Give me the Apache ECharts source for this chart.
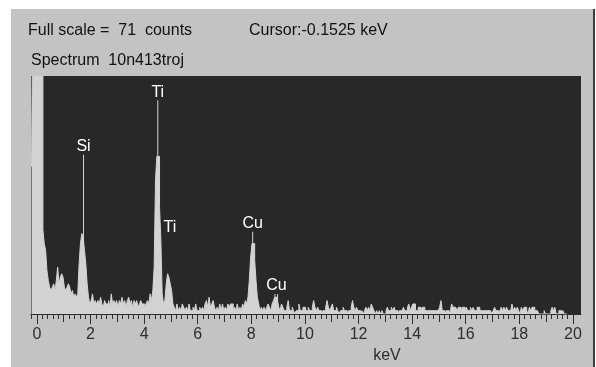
<!DOCTYPE html>
<html>
<head>
<meta charset="utf-8">
<script src="https://cdn.jsdelivr.net/npm/echarts@6/dist/echarts.min.js"></script>
<style>
  html, body { margin: 0; padding: 0; background: #ffffff; }
  #chart { width: 596px; height: 367px; }
</style>
</head>
<body>
<div id="chart"></div>
<script>
// EDS spectrum "10n413troj": counts per 0.05 keV channel, first channel at -0.20 keV
const channelStart = -0.20;
const channelWidth = 0.05;
const counts = [
  // -0.20 .. 0.45 (zero-energy noise peak, clipped at full scale)
  44, 71, 71, 71, 71, 71, 71, 71, 71, 25, 21, 19, 13, 10,
  // 0.50 .. 1.95 (low-energy tail, Si K)
  8, 7, 8, 9, 7, 10, 14, 9, 11, 12, 11, 8, 7, 8, 9, 8, 6, 7, 5, 6,
  5, 6, 15, 21, 24, 23, 19, 15, 9, 5,
  // 2.00 .. 4.30
  3, 4, 6, 3, 4, 3, 4, 3, 5, 3, 2, 4, 3, 3, 4, 2, 6, 3, 4, 3,
  4, 2, 4, 3, 5, 3, 4, 2, 4, 5, 3, 4, 2, 4, 3, 4, 2, 3, 4, 3,
  3, 2, 3, 4, 3, 6, 4,
  // 4.35 .. 5.15 (Ti Ka, Ti Kb)
  7, 14, 40, 47, 47, 32, 22, 6, 3, 4, 9, 12, 11, 9, 7, 3, 2,
  // 5.20 .. 7.85
  1, 3, 1, 2, 1, 3, 2, 1, 2, 1, 3, 1, 1, 2, 1, 3, 1, 1, 2, 1,
  2, 1, 3, 4, 2, 5, 2, 3, 4, 2, 1, 2, 1, 3, 1, 3, 1, 2, 1, 3,
  2, 3, 3, 1, 2, 1, 3, 1, 2, 1, 3, 2, 4, 3,
  // 7.90 .. 9.10 (Cu Ka, Cu Kb)
  5, 10, 17, 21, 21, 16, 10, 5, 3, 1, 2, 1, 2, 1, 2, 3, 2, 1, 3, 4,
  5, 5, 4, 2, 1,
  // 9.15 .. 12.50
  3, 2, 1, 1, 2, 4, 1, 1, 2, 1, 0, 1, 1, 3, 1, 1, 2, 2, 1, 1,
  2, 1, 1, 2, 4, 2, 1, 2, 1, 1, 0, 1, 1, 2, 4, 2, 1, 2, 3, 1,
  1, 2, 1, 0, 1, 1, 2, 1, 1, 0, 1, 1, 2, 4, 2, 1, 2, 1, 1, 0,
  1, 0, 1, 2, 1, 2, 1, 3,
  // 12.55 .. 16.25
  2, 1, 0, 1, 0, 1, 0, 1, 0, 0, 1, 2, 1, 1, 2, 1, 2, 1, 1, 0,
  1, 1, 1, 2, 1, 1, 2, 3, 1, 2, 3, 3, 1, 1, 2, 2, 1, 2, 2, 1,
  1, 1, 1, 1, 1, 1, 1, 1, 1, 1, 2, 4, 1, 1, 0, 1, 1, 0, 1, 3,
  2, 2, 2, 1, 2, 2, 1, 2, 2, 1, 2, 1, 1, 2, 1,
  // 16.30 .. 19.80
  2, 1, 1, 2, 2, 1, 1, 1, 1, 1, 1, 1, 1, 1, 0, 1, 2, 1, 1, 0,
  1, 2, 1, 2, 1, 2, 1, 1, 1, 3, 1, 2, 1, 2, 1, 0, 2, 1, 2, 2,
  1, 0, 2, 1, 2, 2, 1, 1, 1, 0, 0, 0, 0, 1, 0, 0, 0, 0, 1, 2,
  1, 2, 0, 0, 1, 1, 0, 1, 0, 0, 0
];

// Element line markers: energy (keV), marker top (counts), label
const markerKeV = [1.74, 4.51, 4.96, 8.05, 8.88, 8.98];
const markerTop = [47.5, 63.8, 23.5, 24.5, 6, 6];
const markerNames = ['Si', 'Ti', 'Ti', 'Cu', 'Cu', ''];
const markerHidden = [false, false, true, false, false, false];

// Energy axis
const axisMin = -0.22;
const axisMax = 20.3;
const fullScale = 71;
const majorTicks = [0, 2, 4, 6, 8, 10, 12, 14, 16, 18, 20];
const midTicks = [1, 3, 5, 7, 9, 11, 13, 15, 17, 19];

const minorTicks = [];
for (let k = -1; k <= 100; k++) minorTicks.push(Math.round(k * 0.2 * 100) / 100);

const FILL = '#d3d3d3';
const INK = '#2e2e2e';
const HEAD_FONT = '16px "Liberation Sans", Arial, sans-serif';

const spectrum = counts.map((c, i) => [
  Math.round((channelStart + i * channelWidth) * 100) / 100, c
]);

const markers = markerKeV.map((e, i) => ({
  value: [e, markerTop[i]],
  itemStyle: { color: markerHidden[i] ? 'rgba(0,0,0,0)' : FILL },
  label: { offset: i === 4 ? [1.5, 0] : [0, 0] },
  name: markerNames[i]
}));

const baseAxis = {
  type: 'value', min: axisMin, max: axisMax, gridIndex: 0,
  position: 'bottom', offset: 0,
  splitLine: { show: false }
};

const chart = echarts.init(document.getElementById('chart'), null, { renderer: 'canvas' });
chart.setOption({
  animation: false,
  backgroundColor: '#ffffff',
  graphic: [
    { type: 'rect', z: -10, shape: { x: 11, y: 9, width: 582, height: 358 }, style: { fill: '#c3c3c3' } },
    { type: 'rect', z: -10, shape: { x: 593, y: 9, width: 2, height: 358 }, style: { fill: '#3c3c3c' } },
    { type: 'text', style: { x: 28, y: 31, text: 'Full scale =  71  counts', font: HEAD_FONT, fill: '#111', verticalAlign: 'middle' } },
    { type: 'text', style: { x: 249, y: 31, text: 'Cursor:-0.1525 keV', font: HEAD_FONT, fill: '#111', verticalAlign: 'middle' } },
    { type: 'text', style: { x: 31, y: 61, text: 'Spectrum  10n413troj', font: HEAD_FONT, fill: '#111', verticalAlign: 'middle' } },
    { type: 'text', style: { x: 387, y: 356, text: 'keV', font: '16px "Liberation Sans Narrow", "Liberation Sans", Arial, sans-serif', fill: INK, align: 'center', verticalAlign: 'middle' } }
  ],
  grid: {
    left: 31, right: 15, top: 76, bottom: 53,
    show: true, backgroundColor: '#282828', borderWidth: 0
  },
  xAxis: [
    Object.assign({}, baseAxis, {
      axisLine: { show: true, lineStyle: { color: INK, width: 1 } },
      axisTick: { show: true, length: 10, customValues: majorTicks, lineStyle: { color: INK } },
      axisLabel: {
        show: true, customValues: majorTicks, margin: 21, verticalAlign: 'middle',
        color: INK, fontSize: 16, fontFamily: '"Liberation Sans Narrow", "Liberation Sans", Arial, sans-serif'
      }
    }),
    Object.assign({}, baseAxis, {
      axisLine: { show: false },
      axisTick: { show: true, length: 8, customValues: midTicks, lineStyle: { color: INK } },
      axisLabel: { show: false }
    }),
    Object.assign({}, baseAxis, {
      axisLine: { show: false },
      axisTick: { show: true, length: 5, customValues: minorTicks, lineStyle: { color: INK } },
      axisLabel: { show: false }
    })
  ],
  yAxis: {
    type: 'value', min: 0, max: fullScale, show: false
  },
  series: [
    {
      type: 'line', xAxisIndex: 0, data: spectrum, step: 'middle',
      symbol: 'none', z: 3,
      lineStyle: { color: FILL, width: 1 },
      areaStyle: { color: FILL, opacity: 1 }
    },
    {
      type: 'bar', xAxisIndex: 0, data: markers, barWidth: 1, z: 2,
      label: {
        show: true, position: 'top', distance: 0,
        color: '#ffffff', fontSize: 16,
        fontFamily: '"Liberation Sans", Arial, sans-serif',
        formatter: p => p.name
      }
    }
  ]
});
</script>
</body>
</html>
